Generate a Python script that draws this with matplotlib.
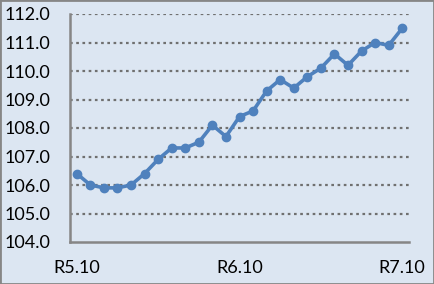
import matplotlib.pyplot as plt
from matplotlib.patches import Rectangle

months = list(range(25))
values = [106.4, 106.0, 105.9, 105.9, 106.0, 106.4, 106.9, 107.3, 107.3, 107.5,
          108.1, 107.7, 108.4, 108.6, 109.3, 109.7, 109.4, 109.8, 110.1, 110.6,
          110.2, 110.7, 111.0, 110.9, 111.5]
tick_pos = [0, 12, 24]
tick_labels = ["R5.10", "R6.10", "R7.10"]
y_ticks = [104, 105, 106, 107, 108, 109, 110, 111, 112]

bg = "#DCE6F2"
plt.rcParams['font.family'] = ['Lato', 'DejaVu Sans']

fig = plt.figure(figsize=(4.34, 2.84), dpi=100, facecolor=bg)
ax = fig.add_axes([70/434, 42/284, 339/434, 228/284])
ax.set_facecolor(bg)

ax.plot(months, values, color="#4F81BD", lw=2.6, marker="o", ms=6, zorder=3)

ax.set_xlim(-0.5, 24.5)
ax.set_ylim(104, 112)
ax.set_yticks(y_ticks)
ax.set_yticklabels([f"{v:.1f}" for v in y_ticks])
ax.set_xticks(tick_pos)
ax.set_xticklabels(tick_labels)
ax.tick_params(length=0, labelsize=13, colors="black")
ax.tick_params(axis="y", pad=14)
ax.tick_params(axis="x", pad=13)

for v in y_ticks[1:]:
    ax.axhline(v, color="#707070", lw=1.6, ls=(0, (1.2, 1.6)), zorder=1)

for s in ["top", "right"]:
    ax.spines[s].set_visible(False)
for s in ["left", "bottom"]:
    ax.spines[s].set_color("#868686")
    ax.spines[s].set_linewidth(1.8)

fig.patches.append(Rectangle((0, 0), 1, 1, transform=fig.transFigure,
                             fill=False, edgecolor="#868686", lw=2))

fig.savefig("out.png", dpi=100, facecolor=bg)
